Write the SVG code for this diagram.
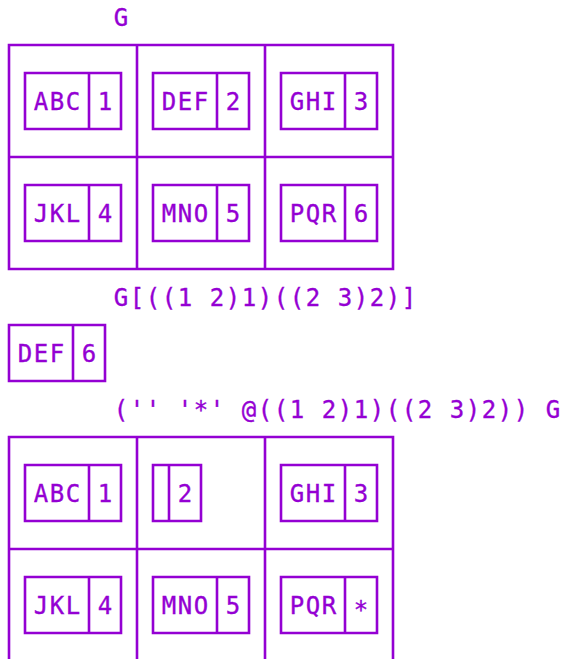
<svg xmlns="http://www.w3.org/2000/svg" width="564" height="659" viewBox="0 0 564 659">
<style>
.ln{fill:none;stroke:#9400D3;stroke-width:2.6;stroke-linecap:square}
.t{font-family:"DejaVu Sans Mono","Liberation Mono",monospace;font-size:24px;fill:#9400D3;stroke:#9400D3;stroke-width:0.35;letter-spacing:1.55px;white-space:pre}
.c{font-family:"DejaVu Sans Mono","Liberation Mono",monospace;font-size:24px;fill:#9400D3;stroke:#9400D3;stroke-width:0.35;text-anchor:middle}
</style>
<rect width="564" height="659" fill="#fff"/>
<g id="expr1"><text class="t" x="113.8" y="26">G</text></g>
<g id="table1">
  <path class="ln" d="M9 45H393V269H9Z M137 45V269 M265 45V269 M9 157H393"/>
  <g id="t1-abc"><path class="ln" d="M25 73H121V129H25Z M89 73V129"/><text class="c" x="41 57 73" y="110">ABC</text><text class="c" x="105" y="110">1</text></g>
  <g id="t1-def"><path class="ln" d="M153 73H249V129H153Z M217 73V129"/><text class="c" x="169 185 201" y="110">DEF</text><text class="c" x="233" y="110">2</text></g>
  <g id="t1-ghi"><path class="ln" d="M281 73H377V129H281Z M345 73V129"/><text class="c" x="297 313 329" y="110">GHI</text><text class="c" x="361" y="110">3</text></g>
  <g id="t1-jkl"><path class="ln" d="M25 185H121V241H25Z M89 185V241"/><text class="c" x="41 57 73" y="222">JKL</text><text class="c" x="105" y="222">4</text></g>
  <g id="t1-mno"><path class="ln" d="M153 185H249V241H153Z M217 185V241"/><text class="c" x="169 185 201" y="222">MNO</text><text class="c" x="233" y="222">5</text></g>
  <g id="t1-pqr"><path class="ln" d="M281 185H377V241H281Z M345 185V241"/><text class="c" x="297 313 329" y="222">PQR</text><text class="c" x="361" y="222">6</text></g>
</g>
<g id="expr2"><text class="t" x="113.8" y="306">G[((1 2)1)((2 3)2)]</text></g>
<g id="result2">
  <path class="ln" d="M9 325H105V381H9Z M73 325V381"/><text class="c" x="25 41 57" y="362">DEF</text><text class="c" x="89" y="362">6</text>
</g>
<g id="expr3"><text class="t" x="113.8" y="418">('' '*' @((1 2)1)((2 3)2)) G</text></g>
<g id="table2">
  <path class="ln" d="M9 661V437H393V661 M137 437V661 M265 437V661 M9 549H393"/>
  <g id="t2-abc"><path class="ln" d="M25 465H121V521H25Z M89 465V521"/><text class="c" x="41 57 73" y="502">ABC</text><text class="c" x="105" y="502">1</text></g>
  <g id="t2-empty"><path class="ln" d="M153 465H201V521H153Z M169 465V521"/><text class="c" x="185" y="502">2</text></g>
  <g id="t2-ghi"><path class="ln" d="M281 465H377V521H281Z M345 465V521"/><text class="c" x="297 313 329" y="502">GHI</text><text class="c" x="361" y="502">3</text></g>
  <g id="t2-jkl"><path class="ln" d="M25 577H121V633H25Z M89 577V633"/><text class="c" x="41 57 73" y="614">JKL</text><text class="c" x="105" y="614">4</text></g>
  <g id="t2-mno"><path class="ln" d="M153 577H249V633H153Z M217 577V633"/><text class="c" x="169 185 201" y="614">MNO</text><text class="c" x="233" y="614">5</text></g>
  <g id="t2-pqr"><path class="ln" d="M281 577H377V633H281Z M345 577V633"/><text class="c" x="297 313 329" y="614">PQR</text><text class="c" x="361" y="618">*</text></g>
</g>
</svg>
